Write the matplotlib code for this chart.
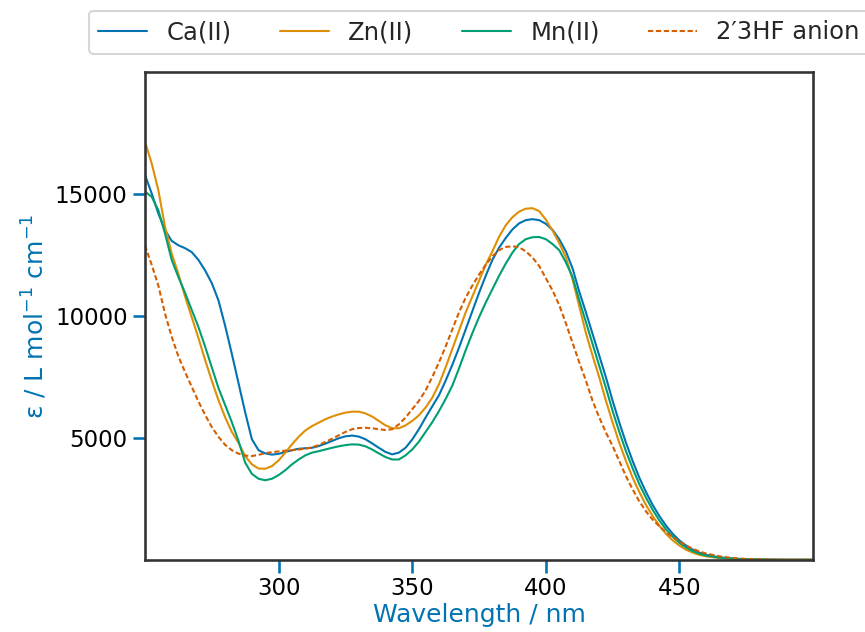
import matplotlib

matplotlib.use("Agg", force=True)
import matplotlib.pyplot as plt
import seaborn as sns

# wavelength grid (nm): 2.5 nm steps up to 460, then 5 nm
wavelength = [250 + 2.5 * i for i in range(85)] + [465, 470, 475, 480, 485, 490, 495, 500]

# molar absorptivity (L mol-1 cm-1)
ca = [15780, 15030, 14200, 13520, 13080, 12900, 12780, 12620, 12300, 11870,
      11350, 10640, 9600, 8450, 7250, 6050, 4950, 4500, 4370, 4320,
      4350, 4430, 4500, 4560, 4580, 4600, 4670, 4770, 4880, 4990,
      5070, 5100, 5060, 4950, 4780, 4600, 4430, 4330, 4400, 4600,
      4940, 5360, 5840, 6300, 6750, 7350, 8000, 8700, 9450, 10200,
      10950, 11650, 12300, 12800, 13200, 13550, 13800, 13930, 13970, 13930,
      13780, 13530, 13150, 12650, 11950, 11000, 10150, 9260, 8370, 7480,
      6520, 5630, 4800, 4050, 3370, 2780, 2250, 1800, 1400, 1070,
      800, 590, 420, 300, 210,
      110, 60, 30, 20, 15, 10, 10, 10]

zn = [17150, 16260, 15160, 13660, 12560, 11730, 10800, 9950, 9100, 8200,
      7350, 6550, 5850, 5250, 4800, 4260, 3920, 3750, 3740, 3850,
      4080, 4400, 4740, 5050, 5310, 5490, 5630, 5770, 5880, 5970,
      6040, 6080, 6080, 6010, 5880, 5700, 5520, 5400, 5400, 5520,
      5700, 5930, 6250, 6650, 7200, 7900, 8650, 9400, 10150, 10800,
      11450, 12100, 12650, 13250, 13720, 14050, 14280, 14400, 14420, 14300,
      13950, 13500, 13000, 12400, 11500, 10400, 9300, 8370, 7480, 6520,
      5630, 4800, 4050, 3370, 2780, 2250, 1800, 1400, 1070, 800,
      590, 420, 300, 210, 150,
      80, 45, 25, 15, 10, 10, 10, 10]

mn = [15100, 14890, 14340, 13380, 12300, 11600, 10950, 10250, 9550, 8750,
      7900, 7050, 6350, 5650, 4880, 3990, 3530, 3330, 3270, 3330,
      3480, 3680, 3920, 4120, 4290, 4400, 4460, 4530, 4600, 4660,
      4710, 4740, 4730, 4660, 4530, 4370, 4220, 4120, 4120, 4290,
      4530, 4850, 5250, 5650, 6100, 6600, 7150, 7850, 8600, 9300,
      9950, 10550, 11100, 11650, 12150, 12600, 12950, 13150, 13230, 13240,
      13150, 12950, 12700, 12200, 11600, 10650, 9750, 8850, 7950, 7050,
      6100, 5250, 4450, 3750, 3100, 2550, 2050, 1620, 1250, 950,
      700, 510, 360, 260, 180,
      95, 50, 30, 20, 12, 10, 10, 10]

anion = [12900, 12100, 11250, 10100, 9150, 8350, 7700, 7100, 6500, 5950,
         5450, 5050, 4720, 4500, 4360, 4280, 4260, 4310, 4380, 4420,
         4450, 4480, 4500, 4530, 4560, 4620, 4710, 4840, 4970, 5110,
         5250, 5360, 5410, 5420, 5400, 5360, 5330, 5360, 5560, 5840,
         6180, 6520, 6950, 7500, 8100, 8750, 9450, 10150, 10750, 11250,
         11700, 12100, 12450, 12700, 12830, 12860, 12820, 12650, 12400, 12050,
         11550, 11050, 10450, 9700, 8900, 8100, 7350, 6520, 5840, 5220,
         4670, 4050, 3430, 2890, 2400, 1990, 1650, 1380, 1140, 940,
         760, 590, 460, 350, 265,
         150, 80, 45, 25, 15, 10, 10, 10]

labels = ["Ca(II)", "Zn(II)", "Mn(II)", "2\u20323HF anion"]

sns.set_theme(context="talk", style="ticks")
plt.rcParams["font.family"] = ["DejaVu Sans"]
palette = sns.color_palette("colorblind")
accent = "#0173b2"

fig = plt.figure(figsize=(8.65, 6.32), dpi=100)
ax = fig.add_axes([0.1676, 0.1139, 0.7724, 0.7721])

ax.plot(wavelength, ca, color=palette[0], lw=1.5, label=labels[0])
ax.plot(wavelength, zn, color=palette[1], lw=1.5, label=labels[1])
ax.plot(wavelength, mn, color=palette[2], lw=1.5, label=labels[2])
ax.plot(wavelength, anion, color=palette[3], lw=1.5, ls=(0, (2.5, 1.3)), label=labels[3])

ax.set_xlim(250, 500)
ax.set_ylim(0, 20000)
ax.set_xticks([300, 350, 400, 450])
ax.set_yticks([5000, 10000, 15000])
ax.tick_params(axis="both", color=accent, labelcolor="black")
for spine in ax.spines.values():
    spine.set_visible(True)
    spine.set_color("#333333")

ax.set_xlabel("Wavelength / nm", color=accent, labelpad=2)
ax.set_ylabel(r"ε / L mol$^{-1}$ cm$^{-1}$", color=accent)

ax.legend(loc="lower center", bbox_to_anchor=(0.5, 1.012), ncol=4, frameon=True,
          fontsize=17.5)

fig.savefig("out.png", dpi=100)
